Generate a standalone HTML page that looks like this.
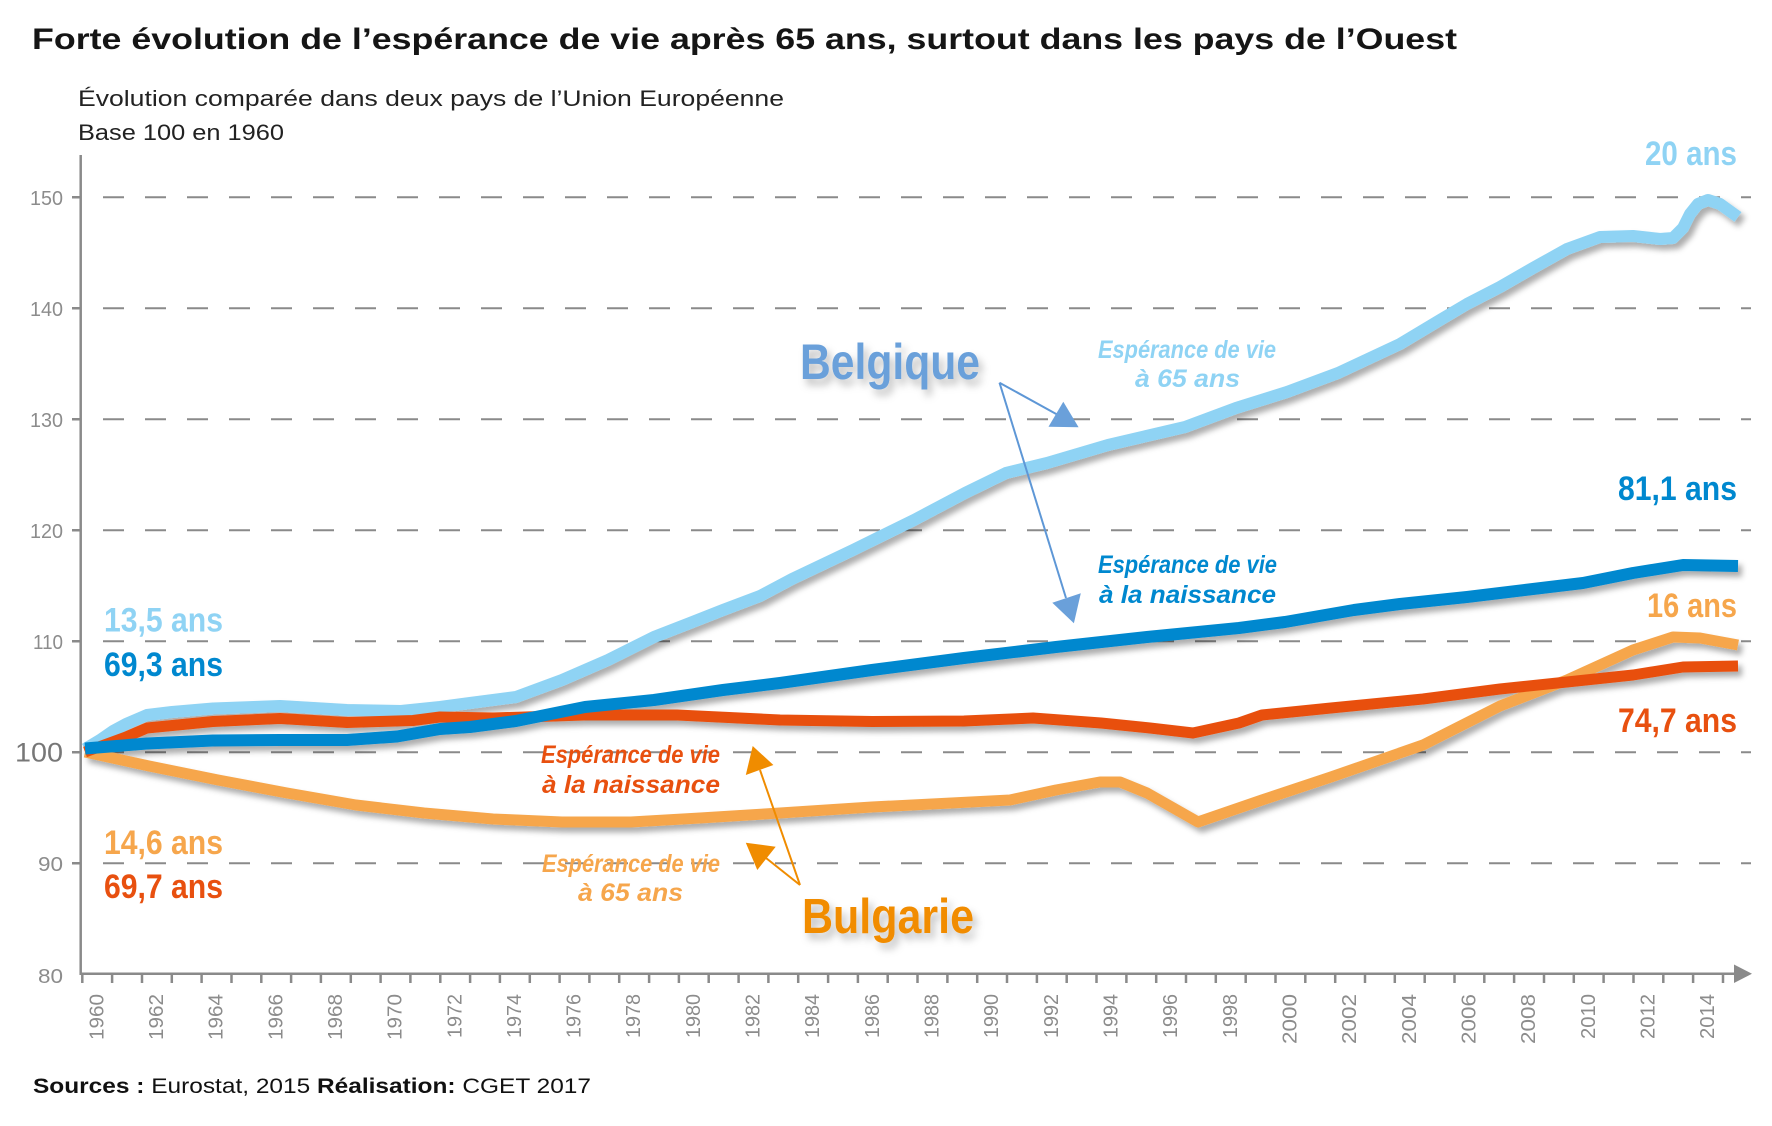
<!DOCTYPE html>
<html><head><meta charset="utf-8"><style>
html,body{margin:0;padding:0;background:#fff;}
svg{display:block;font-family:"Liberation Sans",Arial,sans-serif;}
</style></head><body>
<svg width="1772" height="1126" viewBox="0 0 1772 1126" xmlns="http://www.w3.org/2000/svg">
<defs>
<filter id="sh" filterUnits="userSpaceOnUse" x="0" y="0" width="1772" height="1126">
<feDropShadow dx="4" dy="5" stdDeviation="3" flood-color="#000" flood-opacity="0.32"/>
</filter>
<filter id="sht" filterUnits="userSpaceOnUse" x="0" y="0" width="1772" height="1126">
<feDropShadow dx="4" dy="6" stdDeviation="4" flood-color="#000" flood-opacity="0.25"/>
</filter>
</defs>
<rect width="1772" height="1126" fill="#fff"/>

<!-- Title -->
<text x="32" y="49" font-size="30" font-weight="bold" fill="#151515" textLength="1425" lengthAdjust="spacingAndGlyphs">Forte évolution de l’espérance de vie après 65 ans, surtout dans les pays de l’Ouest</text>
<text x="78" y="106" font-size="22" fill="#222" textLength="706" lengthAdjust="spacingAndGlyphs">Évolution comparée dans deux pays de l’Union Européenne</text>
<text x="78" y="140" font-size="22" fill="#222" textLength="206" lengthAdjust="spacingAndGlyphs">Base 100 en 1960</text>

<!-- gridlines -->
<g stroke="#8a8a8a" stroke-width="2" stroke-dasharray="21 21">
<line x1="103" y1="197.3" x2="1751" y2="197.3"/>
<line x1="103" y1="308.3" x2="1751" y2="308.3"/>
<line x1="103" y1="419.3" x2="1751" y2="419.3"/>
<line x1="103" y1="530.3" x2="1751" y2="530.3"/>
<line x1="103" y1="641.3" x2="1751" y2="641.3"/>
<line x1="103" y1="752.3" x2="1751" y2="752.3"/>
<line x1="103" y1="863.3" x2="1751" y2="863.3"/>
</g>

<!-- axes -->
<g stroke="#8a8a8a" stroke-width="2.5" fill="none">
<line x1="80.7" y1="155" x2="80.7" y2="975"/>
<line x1="79.5" y1="973.7" x2="1738" y2="973.7"/>
<path d="M72 197.3H81M72 308.3H81M72 419.3H81M72 530.3H81M72 641.3H81M72 752.3H81M72 863.3H81"/>
<path d="M82.3 974V983M112.1 974V983M142 974V983M171.8 974V983M201.6 974V983M231.5 974V983M261.3 974V983M291.1 974V983M320.9 974V983M350.8 974V983M380.6 974V983M410.4 974V983M440.3 974V983M470.1 974V983M499.9 974V983M529.8 974V983M559.6 974V983M589.4 974V983M619.2 974V983M649.1 974V983M678.9 974V983M708.7 974V983M738.6 974V983M768.4 974V983M798.2 974V983M828.1 974V983M857.9 974V983M887.7 974V983M917.5 974V983M947.4 974V983M977.2 974V983M1007 974V983M1036.9 974V983M1066.7 974V983M1096.5 974V983M1126.4 974V983M1156.2 974V983M1186 974V983M1215.8 974V983M1245.7 974V983M1275.5 974V983M1305.3 974V983M1335.2 974V983M1365 974V983M1394.8 974V983M1424.7 974V983M1454.5 974V983M1484.3 974V983M1514.1 974V983M1544 974V983M1573.8 974V983M1603.6 974V983M1633.5 974V983M1663.3 974V983M1693.1 974V983M1723 974V983"/>
</g>
<polygon points="1734,964.5 1752,973.7 1734,983" fill="#8a8a8a"/>

<!-- y labels -->
<g fill="#8c8c8c" font-size="20" text-anchor="end">
<text x="63" y="205" textLength="33" lengthAdjust="spacingAndGlyphs">150</text>
<text x="63" y="316" textLength="33" lengthAdjust="spacingAndGlyphs">140</text>
<text x="63" y="427" textLength="33" lengthAdjust="spacingAndGlyphs">130</text>
<text x="63" y="538" textLength="33" lengthAdjust="spacingAndGlyphs">120</text>
<text x="63" y="649" textLength="30" lengthAdjust="spacingAndGlyphs">110</text>
<text x="63" y="761.5" font-size="27" fill="#777" textLength="48" lengthAdjust="spacingAndGlyphs">100</text>
<text x="63" y="871" textLength="25" lengthAdjust="spacingAndGlyphs">90</text>
<text x="63" y="983" textLength="25" lengthAdjust="spacingAndGlyphs">80</text>
</g>

<!-- x labels -->
<g fill="#8c8c8c" font-size="20" text-anchor="end">
<text transform="translate(103.3,994) rotate(-90)" textLength="46" lengthAdjust="spacingAndGlyphs">1960</text>
<text transform="translate(163,994) rotate(-90)" textLength="46" lengthAdjust="spacingAndGlyphs">1962</text>
<text transform="translate(222.6,994) rotate(-90)" textLength="46" lengthAdjust="spacingAndGlyphs">1964</text>
<text transform="translate(282.3,994) rotate(-90)" textLength="46" lengthAdjust="spacingAndGlyphs">1966</text>
<text transform="translate(341.9,994) rotate(-90)" textLength="46" lengthAdjust="spacingAndGlyphs">1968</text>
<text transform="translate(401.6,994) rotate(-90)" textLength="46" lengthAdjust="spacingAndGlyphs">1970</text>
<text transform="translate(461.3,994) rotate(-90)" textLength="44" lengthAdjust="spacingAndGlyphs">1972</text>
<text transform="translate(520.9,994) rotate(-90)" textLength="44" lengthAdjust="spacingAndGlyphs">1974</text>
<text transform="translate(580.6,994) rotate(-90)" textLength="44" lengthAdjust="spacingAndGlyphs">1976</text>
<text transform="translate(640.2,994) rotate(-90)" textLength="44" lengthAdjust="spacingAndGlyphs">1978</text>
<text transform="translate(699.9,994) rotate(-90)" textLength="44" lengthAdjust="spacingAndGlyphs">1980</text>
<text transform="translate(759.6,994) rotate(-90)" textLength="44" lengthAdjust="spacingAndGlyphs">1982</text>
<text transform="translate(819.2,994) rotate(-90)" textLength="44" lengthAdjust="spacingAndGlyphs">1984</text>
<text transform="translate(878.9,994) rotate(-90)" textLength="44" lengthAdjust="spacingAndGlyphs">1986</text>
<text transform="translate(938.5,994) rotate(-90)" textLength="44" lengthAdjust="spacingAndGlyphs">1988</text>
<text transform="translate(998.2,994) rotate(-90)" textLength="44" lengthAdjust="spacingAndGlyphs">1990</text>
<text transform="translate(1057.9,994) rotate(-90)" textLength="44" lengthAdjust="spacingAndGlyphs">1992</text>
<text transform="translate(1117.5,994) rotate(-90)" textLength="44" lengthAdjust="spacingAndGlyphs">1994</text>
<text transform="translate(1177.2,994) rotate(-90)" textLength="44" lengthAdjust="spacingAndGlyphs">1996</text>
<text transform="translate(1236.8,994) rotate(-90)" textLength="44" lengthAdjust="spacingAndGlyphs">1998</text>
<text transform="translate(1296.5,994) rotate(-90)" textLength="50" lengthAdjust="spacingAndGlyphs">2000</text>
<text transform="translate(1356.2,994) rotate(-90)" textLength="50" lengthAdjust="spacingAndGlyphs">2002</text>
<text transform="translate(1415.8,994) rotate(-90)" textLength="50" lengthAdjust="spacingAndGlyphs">2004</text>
<text transform="translate(1475.5,994) rotate(-90)" textLength="50" lengthAdjust="spacingAndGlyphs">2006</text>
<text transform="translate(1535.1,994) rotate(-90)" textLength="50" lengthAdjust="spacingAndGlyphs">2008</text>
<text transform="translate(1594.8,994) rotate(-90)" textLength="45" lengthAdjust="spacingAndGlyphs">2010</text>
<text transform="translate(1654.5,994) rotate(-90)" textLength="45" lengthAdjust="spacingAndGlyphs">2012</text>
<text transform="translate(1714.1,994) rotate(-90)" textLength="45" lengthAdjust="spacingAndGlyphs">2014</text>
</g>

<!-- series -->
<g fill="none" stroke-linejoin="round" stroke-linecap="butt" filter="url(#sh)">
<polyline stroke="#8fd3f4" stroke-width="12" points="85,749 100,740 113,731 126,724 147,715 172,712 213,708.5 280,706 347,710 401,711 440,707 470,703 516,697 562,680 608,660 654,637 690,623 723,610 760,596 792,579 853,550 914,520 965,493 1006,473 1047,463 1108,445 1185,427 1236,408 1287,392 1338,373 1400,344 1440,320 1467,304 1500,287 1533,268 1567,249 1600,237 1633,236 1660,239 1673,238 1683,228 1690,214 1698,204 1708,200 1720,204 1738,217"/>
<polyline stroke="#f6a64c" stroke-width="11" points="85,752 149,766 218,780 287,793 356,805 424,813 493,819 562,822 631,822 700,818 780,813 872,807 1010,800 1056,790 1100,782 1120,782 1147,793 1198,822 1262,800 1331,777 1423,745 1500,706 1567,680 1633,650 1673,637 1700,638 1738,645"/>
<polyline stroke="#e8500f" stroke-width="11" points="85,752 126,737 147,728 213,721.5 280,718.5 347,722.5 413,720.5 440,717 493,718 585,715 677,715 780,720 872,721.5 964,721 1033,718 1101,723 1150,728 1193,733 1239,723 1262,715 1331,708 1423,699 1500,689 1567,682 1633,675 1683,667 1738,666"/>
<polyline stroke="#0088cf" stroke-width="12" points="85,748.5 147,743.5 213,740.5 280,740 347,740 397,736.5 440,729 470,727 516,721 585,707 654,700 723,690 780,683 872,670 964,658 1056,647 1147,637 1239,628 1285,622 1354,610 1400,604 1467,597 1533,589 1583,583 1633,573 1683,565 1738,566"/>
</g>

<!-- value labels -->
<g font-size="34" font-weight="bold">
<text x="104" y="631.5" fill="#8fd3f4" textLength="119" lengthAdjust="spacingAndGlyphs">13,5 ans</text>
<text x="104" y="676" fill="#0088cf" textLength="119" lengthAdjust="spacingAndGlyphs">69,3 ans</text>
<text x="104" y="854" fill="#f6a64c" textLength="119" lengthAdjust="spacingAndGlyphs">14,6 ans</text>
<text x="104" y="898" fill="#e8500f" textLength="119" lengthAdjust="spacingAndGlyphs">69,7 ans</text>
<text x="1737" y="165" fill="#8fd3f4" text-anchor="end" textLength="92" lengthAdjust="spacingAndGlyphs">20 ans</text>
<text x="1737" y="500" fill="#0088cf" text-anchor="end" textLength="119" lengthAdjust="spacingAndGlyphs">81,1 ans</text>
<text x="1737" y="617" fill="#f6a64c" text-anchor="end" textLength="90" lengthAdjust="spacingAndGlyphs">16 ans</text>
<text x="1737" y="732" fill="#e8500f" text-anchor="end" textLength="119" lengthAdjust="spacingAndGlyphs">74,7 ans</text>
</g>

<!-- country labels -->
<text x="800" y="379" font-size="50" font-weight="bold" fill="#6aa0da" textLength="180" lengthAdjust="spacingAndGlyphs" filter="url(#sht)">Belgique</text>
<text x="802" y="933" font-size="49" font-weight="bold" fill="#f18c00" textLength="172" lengthAdjust="spacingAndGlyphs" filter="url(#sht)">Bulgarie</text>

<!-- annotations -->
<g font-size="25" font-weight="bold" font-style="italic">
<text x="1098" y="358" fill="#8fd3f4" textLength="178" lengthAdjust="spacingAndGlyphs">Espérance de vie</text>
<text x="1135" y="387" fill="#8fd3f4" textLength="105" lengthAdjust="spacingAndGlyphs">à 65 ans</text>
<text x="1098" y="573" fill="#0088cf" textLength="179" lengthAdjust="spacingAndGlyphs">Espérance de vie</text>
<text x="1099" y="603" fill="#0088cf" textLength="177" lengthAdjust="spacingAndGlyphs">à la naissance</text>
<text x="541" y="763" fill="#e8500f" textLength="179" lengthAdjust="spacingAndGlyphs">Espérance de vie</text>
<text x="542" y="793" fill="#e8500f" textLength="178" lengthAdjust="spacingAndGlyphs">à la naissance</text>
<text x="542" y="872" fill="#f6a64c" textLength="178" lengthAdjust="spacingAndGlyphs">Espérance de vie</text>
<text x="578" y="901" fill="#f6a64c" textLength="105" lengthAdjust="spacingAndGlyphs">à 65 ans</text>
</g>

<!-- arrows Belgique -->
<g stroke="#5e97d6" stroke-width="2" fill="none">
<line x1="999.5" y1="382.7" x2="1058" y2="415"/>
<line x1="999.5" y1="382.7" x2="1066" y2="598"/>
</g>
<g fill="#6aa0da">
<polygon points="1078.6,427.3 1048.5,426.7 1063.3,401.7"/>
<polygon points="1073.9,623.3 1052.3,602.7 1080.8,593.3"/>
</g>

<!-- arrows Bulgarie -->
<g stroke="#f08c00" stroke-width="2" fill="none">
<line x1="800" y1="885" x2="760" y2="770"/>
<line x1="800" y1="885" x2="766" y2="858"/>
</g>
<g fill="#f08c00">
<polygon points="752.7,746 745.8,775 773.4,765"/>
<polygon points="745.8,842.7 757.3,870 775.7,846.7"/>
</g>

<!-- sources -->
<text x="33" y="1093" font-size="21" fill="#111" textLength="558" lengthAdjust="spacingAndGlyphs"><tspan font-weight="bold">Sources :</tspan> Eurostat, 2015 <tspan font-weight="bold">Réalisation:</tspan> CGET 2017</text>
</svg>
</body></html>
